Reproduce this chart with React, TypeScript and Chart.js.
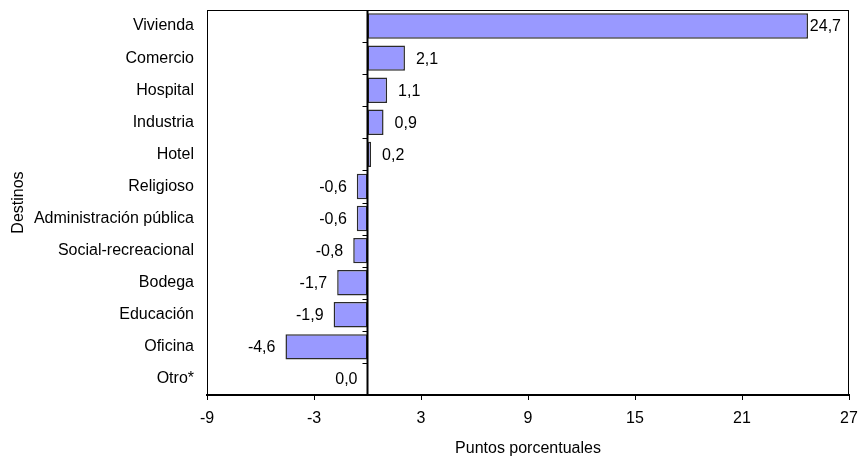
import React, { useEffect, useRef } from "react";
import { Chart, registerables } from "chart.js";

Chart.register(...registerables);

const categories = [
  "Vivienda",
  "Comercio",
  "Hospital",
  "Industria",
  "Hotel",
  "Religioso",
  "Administración pública",
  "Social-recreacional",
  "Bodega",
  "Educación",
  "Oficina",
  "Otro*",
];
const values = [24.7, 2.1, 1.1, 0.9, 0.2, -0.6, -0.6, -0.8, -1.7, -1.9, -4.6, 0.0];
const xMin = -9;
const xMax = 27;
const xStep = 6;
const xTitle = "Puntos porcentuales";
const yTitle = "Destinos";

const FONT = "'Liberation Sans', Arial, sans-serif";

const fmt = (v: number) => v.toFixed(1).replace(".", ",");

const framePlugin = {
  id: "frameAndZero",
  afterDatasetsDraw(chart: any) {
    const { ctx, chartArea, scales } = chart;
    const xs = scales.x;
    const ys = scales.y;
    const zx = xs.getPixelForValue(0);
    ctx.save();
    // frame
    ctx.strokeStyle = "#000";
    ctx.lineWidth = 1;
    ctx.strokeRect(chartArea.left + 0.5, chartArea.top + 0.5, chartArea.right - chartArea.left - 1, chartArea.bottom - chartArea.top);
    // zero line
    ctx.lineWidth = 2;
    ctx.beginPath();
    ctx.moveTo(zx, chartArea.top);
    ctx.lineTo(zx, chartArea.bottom);
    ctx.stroke();
    // category ticks on zero line
    ctx.lineWidth = 1;
    const n = categories.length;
    for (let i = 0; i <= n; i++) {
      let y: number;
      if (i === 0) y = chartArea.top;
      else if (i === n) y = chartArea.bottom;
      else y = (ys.getPixelForValue(i - 1) + ys.getPixelForValue(i)) / 2;
      ctx.beginPath();
      ctx.moveTo(zx - 5, Math.round(y) + 0.5);
      ctx.lineTo(zx, Math.round(y) + 0.5);
      ctx.stroke();
    }
    // value labels
    ctx.font = `16px ${FONT}`;
    ctx.fillStyle = "#000";
    ctx.textBaseline = "middle";
    const meta = chart.getDatasetMeta(0);
    meta.data.forEach((bar: any, i: number) => {
      const v = values[i];
      const text = fmt(v);
      const w = ctx.measureText(text).width;
      if (v > 0) {
        ctx.textAlign = "left";
        const tx = Math.min(bar.x + 11, chartArea.right - w - 8);
        ctx.fillText(text, tx, bar.y + 1);
      } else {
        ctx.textAlign = "right";
        ctx.fillText(text, bar.x - 10, bar.y + 1);
      }
    });
    ctx.restore();
  },
};

const zeroPad = (s: any) => {
  s.paddingTop = 0;
  s.paddingBottom = 0;
  s.paddingLeft = 0;
  s.paddingRight = 0;
};

export default function App() {
  const ref = useRef<HTMLCanvasElement | null>(null);
  useEffect(() => {
    if (!ref.current) return;
    const chart = new Chart(ref.current, {
      type: "bar",
      data: {
        labels: categories,
        datasets: [
          {
            data: values,
            backgroundColor: "#9999ff",
            borderColor: "#2a2a2a",
            borderWidth: 1.5,
            borderSkipped: false,
            barPercentage: 0.79,
            categoryPercentage: 1,
          },
        ],
      },
      options: {
        indexAxis: "y",
        animation: false,
        responsive: false,
        devicePixelRatio: 1,
        layout: { padding: { top: 10, right: 11, left: 0, bottom: 0 } },
        plugins: {
          legend: { display: false },
          tooltip: { enabled: false },
        },
        scales: {
          x: {
            type: "linear",
            min: xMin,
            max: xMax,
            ticks: {
              stepSize: xStep,
              color: "#000",
              font: { family: FONT, size: 16 },
              padding: 9,
              maxRotation: 0,
            },
            grid: {
              drawOnChartArea: false,
              drawTicks: true,
              tickLength: 5,
              tickColor: "#000",
              tickWidth: 1,
            },
            border: { display: true, color: "#000", width: 2 },
            title: {
              display: true,
              text: xTitle,
              color: "#000",
              font: { family: FONT, size: 16 },
              padding: { top: 0, bottom: 0 },
            },
            afterFit: (s: any) => {
              s.height = 63;
              zeroPad(s);
            },
          },
          y: {
            ticks: {
              color: "#000",
              font: { family: FONT, size: 16 },
              padding: 13,
            },
            grid: { display: false, drawTicks: false },
            border: { display: true, color: "#000", width: 1 },
            title: {
              display: true,
              text: yTitle,
              color: "#000",
              font: { family: FONT, size: 16 },
              padding: { top: 9, bottom: 0 },
            },
            afterFit: (s: any) => {
              s.width = 207;
              zeroPad(s);
            },
          },
        },
      },
      plugins: [framePlugin],
    } as any);
    return () => chart.destroy();
  }, []);
  return (
    <div style={{ position: "fixed", left: 0, top: 0, width: 860, height: 458, background: "#fff" }}>
      <canvas ref={ref} width={860} height={458} />
    </div>
  );
}
